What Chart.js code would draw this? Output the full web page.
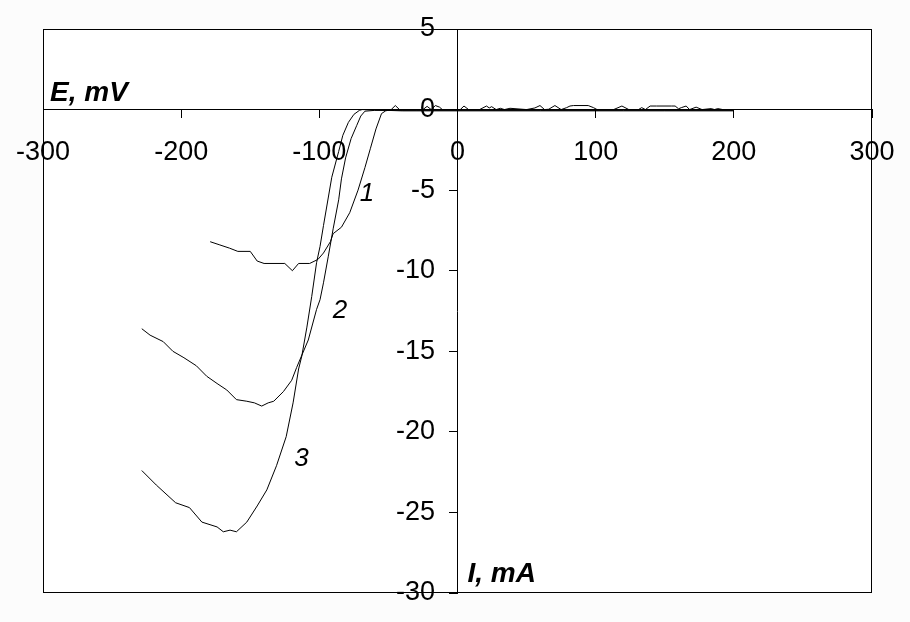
<!DOCTYPE html>
<html>
<head>
<meta charset="utf-8">
<script src="https://cdn.jsdelivr.net/npm/chart.js@4/dist/chart.umd.min.js"></script>
<style>
  html, body { margin: 0; padding: 0; background: #fcfcfc; }
  canvas { display: block; }
</style>
</head>
<body>
<canvas id="chartEI" width="910" height="622"></canvas>
<script>
// tick labels of both axes
var xTickLabels = [-300, -200, -100, 0, 100, 200, 300];
var yTickLabels = [5, 0, -5, -10, -15, -20, -25, -30];

// curve 1 : current I (mA) / potential E (mV)
var curve1I = [-179, -172, -165, -159, -150, -145, -140, -125, -119.5, -115, -107, -101, -97, -92, -90, -84, -78, -72, -67, -63, -59, -55, -52,
  -48, -45, -42, -25, -22, -19, -16, -13, -11, 0, 2, 4.7, 8, 16, 21, 23, 24.7, 28, 31, 34, 38, 50, 56, 59.7, 63, 66, 70.5, 75, 79, 81.4,
  84, 94.6, 98.4, 101, 113, 119, 124, 131, 133.3, 136, 139.4, 144, 155, 157.5, 160, 162, 165.5, 168, 172.7, 177, 183.6, 186, 188.4, 192, 198];
var curve1E = [-8.2, -8.4, -8.6, -8.8, -8.8, -9.4, -9.55, -9.55, -10.0, -9.55, -9.55, -9.3, -8.9, -8.2, -7.7, -7.3, -6.4, -5.0, -3.6, -2.4, -1.2, -0.25, -0.08,
  0, 0.25, 0, 0, 0.2, 0, 0.25, 0.15, 0, 0, 0, 0.22, 0, 0, 0.22, 0.1, 0.18, 0, 0.08, 0, 0.08, 0, 0.1, 0.25, 0, 0.02, 0.25, 0, 0.12, 0.22,
  0.25, 0.25, 0.12, 0, 0, 0.22, 0, 0, 0.12, 0, 0.22, 0.22, 0.22, 0.22, 0.05, 0.12, 0.22, 0, 0.15, 0, 0.06, 0, 0.06, 0, 0];

// curve 2
var curve2I = [-228.5, -222.5, -213, -206, -198, -189, -181.5, -174, -167, -160, -152.5, -147, -141.7, -137, -133, -126, -120, -116.4, -108, -102,
  -99.5, -97, -93.5, -90, -86, -84, -81, -77, -73, -70, -67, -60, -30, 0, 60, 120, 200];
var curve2E = [-13.6, -14.0, -14.4, -15.0, -15.4, -15.9, -16.55, -17.0, -17.4, -18.0, -18.1, -18.2, -18.4, -18.2, -18.1, -17.5, -16.8, -16.0, -14.3, -12.4,
  -11.8, -10.75, -9.1, -7.4, -5.6, -4.3, -3.0, -1.8, -1.0, -0.4, -0.1, -0.05, -0.05, -0.05, -0.05, -0.05, -0.05];

// curve 3
var curve3I = [-228.5, -218, -204, -194, -185, -174, -169.5, -164.6, -160, -152.5, -145, -138, -131, -124, -119, -115, -112.7, -109, -105.5, -102,
  -99.5, -97, -91, -86, -83, -79, -75, -71, -69, -40, 0, 80, 150, 200];
var curve3E = [-22.4, -23.3, -24.4, -24.7, -25.6, -25.9, -26.2, -26.1, -26.2, -25.6, -24.6, -23.6, -22.1, -20.3, -18.2, -16.1, -15.3, -13.5, -11.6, -9.5,
  -8.5, -7.2, -4.2, -2.6, -1.6, -0.8, -0.3, -0.05, 0, -0.08, -0.08, -0.08, -0.08, -0.08];

// curve numbers and where they sit (data units)
var curveNames = ['1', '2', '3'];
var curveNameI = [-65.5, -85, -113];
var curveNameE = [-5.2, -12.5, -21.7];

function toPoints(xs, ys) {
  return xs.map(function (x, i) { return { x: x, y: ys[i] }; });
}

function lineSet(xs, ys) {
  return {
    data: toPoints(xs, ys),
    showLine: true,
    borderColor: '#000',
    borderWidth: 1,
    pointRadius: 0,
    tension: 0,
    fill: false
  };
}

var frame = {
  id: 'frame',
  beforeDraw: function (chart) {
    var a = chart.chartArea, ctx = chart.ctx;
    ctx.save();
    ctx.fillStyle = '#fff';
    ctx.fillRect(a.left, a.top, a.right - a.left, a.bottom - a.top);
    ctx.restore();
  },
  afterDraw: function (chart) {
    var a = chart.chartArea, ctx = chart.ctx;
    var xs = chart.scales.x, ys = chart.scales.y;
    ctx.save();
    ctx.strokeStyle = '#000';
    ctx.lineWidth = 1;
    ctx.strokeRect(Math.round(a.left) + 0.5, Math.round(a.top) + 0.5,
      Math.round(a.right - a.left) - 1, Math.round(a.bottom - a.top) - 1);

    // curve numbers
    ctx.fillStyle = '#000';
    ctx.font = 'italic 26px "Liberation Sans", Arial, sans-serif';
    ctx.textAlign = 'center';
    ctx.textBaseline = 'middle';
    curveNames.forEach(function (n, i) {
      ctx.fillText(n, xs.getPixelForValue(curveNameI[i]), ys.getPixelForValue(curveNameE[i]));
    });

    // axis titles
    ctx.font = 'italic bold 28px "Liberation Sans", Arial, sans-serif';
    ctx.textAlign = 'left';
    ctx.textBaseline = 'alphabetic';
    ctx.fillText('E, mV', a.left + 7, ys.getPixelForValue(0) - 9);
    ctx.fillText('I, mA', xs.getPixelForValue(0) + 10, a.bottom - 11);
    ctx.restore();
  }
};

var tickFont = { family: '"Liberation Sans", Arial, sans-serif', size: 27 };

var chart = new Chart(document.getElementById('chartEI'), {
  type: 'scatter',
  data: {
    datasets: [lineSet(curve1I, curve1E), lineSet(curve2I, curve2E), lineSet(curve3I, curve3E)]
  },
  options: {
    responsive: false,
    animation: false,
    devicePixelRatio: 1,
    layout: { padding: { left: 43, top: 29, right: 38, bottom: 29 } },
    plugins: { legend: { display: false }, tooltip: { enabled: false } },
    scales: {
      x: {
        type: 'linear',
        position: { y: 0 },
        min: xTickLabels[0],
        max: xTickLabels[xTickLabels.length - 1],
        afterFit: function (s) { s.height = 0; s.paddingLeft = 0; s.paddingRight = 0; },
        afterBuildTicks: function (s) { s.ticks = xTickLabels.map(function (v) { return { value: v }; }); },
        ticks: {
          color: '#000',
          font: tickFont,
          padding: 19,
          maxRotation: 0,
          autoSkip: false,
          callback: function (v) { return String(v); }
        },
        grid: { drawOnChartArea: false, drawTicks: true, tickLength: 8, color: '#000' },
        border: { display: true, color: '#000', width: 1 }
      },
      y: {
        type: 'linear',
        position: { x: 0 },
        min: yTickLabels[yTickLabels.length - 1],
        max: yTickLabels[0],
        afterFit: function (s) { s.width = 0; s.paddingTop = 0; s.paddingBottom = 0; },
        afterBuildTicks: function (s) { s.ticks = yTickLabels.map(function (v) { return { value: v }; }); },
        ticks: {
          color: '#000',
          font: tickFont,
          autoSkip: false,
          callback: function (v) { return String(v) + '   '; }
        },
        grid: { drawOnChartArea: false, drawTicks: true, tickLength: 8, color: '#000' },
        border: { display: true, color: '#000', width: 1 }
      }
    }
  },
  plugins: [frame]
});
</script>
</body>
</html>
